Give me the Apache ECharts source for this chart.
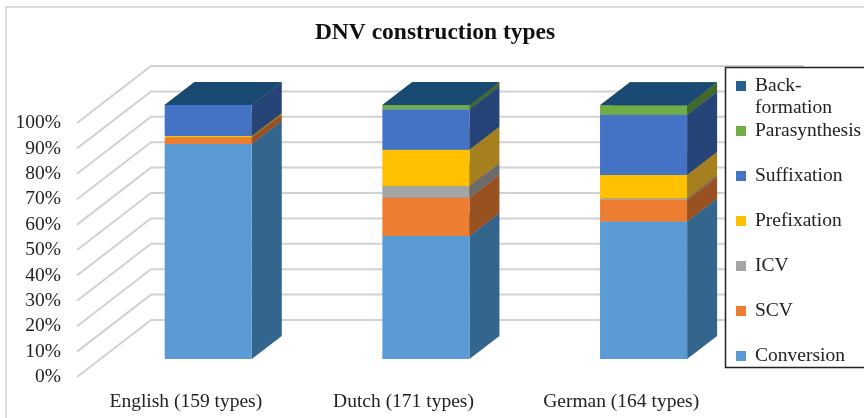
<!DOCTYPE html>
<html>
<head>
<meta charset="utf-8">
<style>html,body{margin:0;padding:0;background:#fff}#main{width:864px;height:418px}</style>
<script src="https://cdn.jsdelivr.net/npm/echarts@6/dist/echarts.min.js"></script>
</head>
<body>
<div id="main"></div>
<script>
// values, percent of each language's types
const categories = ['English (159 types)', 'Dutch (171 types)', 'German (164 types)']
const ticks = [0, 10, 20, 30, 40, 50, 60, 70, 80, 90, 100]
const conversion = [84.6, 48.4, 54.1]
const scv = [2.6, 15.1, 8.5]
const icv = [0, 4.6, 0.6]
const prefixation = [0.6, 14.3, 9.2]
const suffixation = [12.2, 15.9, 23.8]
const parasynthesis = [0, 1.7, 3.7]
const backFormation = [0, 0, 0]

const seriesNames = ['Conversion', 'SCV', 'ICV', 'Prefixation', 'Suffixation', 'Parasynthesis', 'Back-formation']
const seriesValues = [conversion, scv, icv, prefixation, suffixation, parasynthesis, backFormation]
const colors = ['#5b9bd5', '#ed7d31', '#a5a5a5', '#ffc000', '#4472c4', '#70ad47', '#255e91']
const sideColors = ['#34658c', '#9a5122', '#6b6b6b', '#a67f1e', '#264478', '#43682b', '#1f3f6e']
const topColors = ['#3d6f9e', '#a85724', '#757575', '#b38600', '#2f5597', '#4e7a31', '#1a4a73']

const FONT = '"Liberation Serif", "Times New Roman", serif'
// oblique offset of the back wall, the bars sit part way along it
const wallX = 74, wallY = -57
const barShiftX = 22.4, barShiftY = -18
const depthX = 30, depthY = -23

function renderGridLine (params, api) {
    const y = api.coord([0, api.value(1)])[1]
    const x0 = params.coordSys.x
    const x1 = x0 + params.coordSys.width
    return {
        type: 'polyline',
        shape: { points: [[x0, y], [x0 + wallX, y + wallY], [x1 + wallX, y + wallY]] },
        style: { stroke: '#d2d2d2', lineWidth: 2, fill: null }
    }
}

function renderBlock (params, api) {
    const s = params.seriesIndex - 1
    const p0 = api.coord([api.value(0), api.value(1)])
    const p1 = api.coord([api.value(0), api.value(2)])
    const w = api.size([1, 0])[0] * 0.4
    const l = p0[0] - w / 2 + barShiftX, r = l + w
    const b = p0[1] + barShiftY, t = p1[1] + barShiftY
    return {
        type: 'group',
        children: [
            { type: 'polygon', shape: { points: [[r, b], [r + depthX, b + depthY], [r + depthX, t + depthY], [r, t]] }, style: { fill: sideColors[s] } },
            { type: 'polygon', shape: { points: [[l, t], [r, t], [r + depthX, t + depthY], [l + depthX, t + depthY]] }, style: { fill: topColors[s] } },
            { type: 'polygon', shape: { points: [[l, b], [r, b], [r, t], [l, t]] }, style: { fill: colors[s] } }
        ]
    }
}

const stack = [0, 0, 0]
const barSeries = seriesNames.map((name, i) => {
    const data = categories.map((c, j) => {
        const row = [j, stack[j], stack[j] + seriesValues[i][j]]
        stack[j] = row[2]
        return row
    })
    return {
        name: name,
        type: 'custom',
        z: 2,
        renderItem: renderBlock,
        itemStyle: { color: colors[i] },
        encode: { x: 0, y: [1, 2] },
        data: data
    }
})

const legendText = { fontFamily: FONT, fontSize: 19.5, color: '#222', lineHeight: 22, padding: [0, 0, 0, 4] }

const myChart = echarts.init(document.getElementById('main'), null, { renderer: 'canvas' })
myChart.setOption({
    animation: false,
    backgroundColor: '#fff',
    title: {
        text: 'DNV construction types',
        left: 430,
        top: 16,
        textAlign: 'center',
        textStyle: { fontFamily: FONT, fontSize: 23.5, fontWeight: 'bold', color: '#111' }
    },
    grid: { left: 77, right: 134, top: 123, bottom: 41 },
    xAxis: {
        type: 'category',
        data: categories,
        axisLine: { show: false },
        axisTick: { show: false },
        axisLabel: { fontFamily: FONT, fontSize: 19.5, color: '#222', margin: 15 }
    },
    yAxis: {
        type: 'value',
        min: 0,
        max: 100,
        interval: 10,
        axisLine: { show: false },
        axisTick: { show: false },
        splitLine: { show: false },
        axisLabel: { fontFamily: FONT, fontSize: 19.5, color: '#222', margin: 16, padding: [2, 0, 0, 0], formatter: '{value}%' }
    },
    legend: [
        {
            data: ['Back-formation'],
            left: 731,
            top: 48,
            orient: 'vertical',
            icon: 'rect',
            itemWidth: 10,
            itemHeight: 10,
            z: 4,
            selectedMode: false,
            formatter: () => '\nBack-\nformation',
            textStyle: legendText
        },
        {
            data: seriesNames.slice(0, 6).reverse(),
            left: 731,
            top: 115,
            orient: 'vertical',
            icon: 'rect',
            itemWidth: 10,
            itemHeight: 10,
            itemGap: 23,
            z: 4,
            selectedMode: false,
            textStyle: legendText
        }
    ],
    graphic: [
        { type: 'rect', z: 3, shape: { x: 725.5, y: 67.5, width: 150, height: 300 }, style: { fill: '#fff', stroke: '#222', lineWidth: 1.5 } },
        { type: 'rect', z: 0, shape: { x: 6, y: 7, width: 880, height: 430 }, style: { fill: null, stroke: '#dcdcdc', lineWidth: 2 } }
    ],
    series: [{
        type: 'custom',
        z: 1,
        renderItem: renderGridLine,
        encode: { x: 0, y: 1 },
        data: ticks.map(v => [0, v])
    }].concat(barSeries)
})
window.addEventListener('resize', myChart.resize)
</script>
</body>
</html>
